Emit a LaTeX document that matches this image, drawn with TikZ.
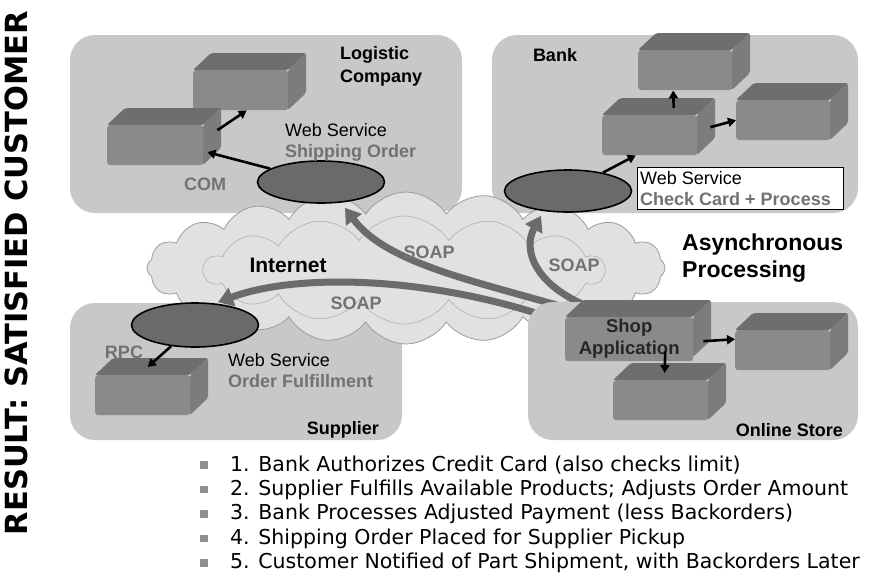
\documentclass[tikz,border=0pt]{standalone}
\usepackage{fontspec}
\setmainfont{Liberation Sans}
\setsansfont{Liberation Sans}
\newfontfamily\listfont{DejaVu Sans}
\newfontfamily\titlefont{DejaVu Sans}
\usetikzlibrary{shapes.geometric,shapes.symbols,arrows.meta}

\definecolor{panelgray}{HTML}{C8C8C8}
\definecolor{cloudgray}{HTML}{E1E1E1}
\definecolor{cloudline}{HTML}{9C9C9C}
\definecolor{cratefront}{HTML}{8A8A8A}
\definecolor{cratetop}{HTML}{6E6E6E}
\definecolor{crateside}{HTML}{7C7C7C}
\definecolor{wsgray}{HTML}{6A6A6A}
\definecolor{soapgray}{HTML}{6B6B6B}
\definecolor{labelgray}{HTML}{727272}
\definecolor{dotgray}{HTML}{8E8E8E}

\pgfdeclarelayer{back}
\pgfdeclarelayer{wires}
\pgfsetlayers{back,wires,main}

\tikzset{
	panel/.style={fill=panelgray, rounded corners=25pt},
	crate/.style={fill=cratefront, rounded corners=3pt, minimum height=40, inner sep=0pt, anchor=north west},
	ws/.style={ellipse, draw=black, line width=1.6pt, fill=wsgray, minimum width=127, minimum height=42, inner sep=0pt},
	link/.style={line width=2.6pt, -{Triangle[length=8pt,width=9pt]}},
	soap/.style={draw=soapgray, line width=7pt, -{Triangle[length=15pt,width=19pt]}},
	lbl/.style={font=\fontsize{18}{23}\selectfont\bfseries, inner sep=0pt},
	grlbl/.style={lbl, text=labelgray},
	wstext/.style={font=\fontsize{18}{21}\selectfont, inner sep=0pt, align=left, anchor=west},
	item/.style={font=\listfont\fontsize{20.5}{24}\selectfont, inner sep=0pt, anchor=west},
	dot/.style={fill=dotgray, minimum size=7.5, inner sep=0pt},
	puffs/.style={cloud, cloud puffs=#1, cloud puff arc=115, aspect=3.3}
}

% crate: name, left, top, width, text
\newcommand{\crate}[5]{%
	\fill[cratetop, rounded corners=2pt] (#2,#3) -- ++(18,-17) -- ++(#4,0) -- ++(-18,17) -- cycle;
	\fill[crateside, rounded corners=2pt] (#2+#4,#3) -- ++(18,-17) -- ++(0,40) -- ++(-18,17) -- cycle;
	\node[crate, minimum width=#4] (#1) at (#2,#3) {#5};
}

\begin{document}
\begin{tikzpicture}[x=1pt, y=-1pt]
	\useasboundingbox (0,0) rectangle (874,587);

	\node[rotate=90, font=\titlefont\fontsize{30.5}{31}\selectfont\bfseries, inner sep=0pt] (title) at (16,273) {RESULT: SATISFIED CUSTOMER};

	% companies and the net behind them
	\begin{pgfonlayer}{back}
		\fill[panel] (70,35) rectangle (462,213);
		\fill[panel] (492,35) rectangle (858,213);
		\fill[panel] (70,303) rectangle (402,440);
		\node[puffs=20, fill=cloudgray, draw=cloudline, line width=0.8pt, minimum width=518, minimum height=152] (net) at (406,268) {};
		\node[puffs=14, draw=cloudline!80, line width=0.6pt, minimum width=400, minimum height=108] (netin) at (404,270) {};
	\end{pgfonlayer}
	\node[font=\fontsize{21}{24}\selectfont\bfseries, inner sep=0pt] (inet) at (288,265) {Internet};

	\fill[panel] (528,302) rectangle (858,440);

	\crate{lcback}{193}{70}{95}{}
	\crate{lcfront}{107}{125}{96}{}
	\crate{banktop}{638}{50}{94}{}
	\crate{bankmid}{602}{115}{95}{}
	\crate{bankright}{736}{100}{94}{}
	\crate{supbox}{95}{375}{95}{}
	\crate{shop}{565}{317}{128}{\fontsize{18.5}{22}\selectfont\bfseries\color{black!85}\begin{tabular}{@{}c@{}}Shop\\Application\end{tabular}}
	\crate{storeright}{735}{330}{95}{}
	\crate{storebottom}{613}{380}{95}{}

	\node[ws] (shipws) at (321,182) {};
	\node[ws] (bankws) at (568,191) {};
	\node[ws, minimum height=44] (supws) at (195,325) {};

	% SOAP calls leave the shop
	\coordinate (shipfrom) at (560,306);
	\coordinate (bankfrom) at (597,310);
	\coordinate (supfrom) at (545,316);
	\begin{pgfonlayer}{wires}
		\draw[soap] (shipfrom) .. controls (470,280) and (385,262) .. ([xshift=24pt,yshift=-4pt]shipws.south);
		\draw[soap] (bankfrom) .. controls (535,288) and (522,250) .. ([xshift=-27pt,yshift=-3pt]bankws.south);
		\draw[soap] (supfrom) .. controls (430,278) and (300,272) .. ([xshift=23pt]supws.north);
	\end{pgfonlayer}

	\draw[link] ([xshift=14pt,yshift=15pt]lcfront.east) -- ([xshift=6pt]lcback.south);
	\draw[link] (shipws) -- ([xshift=4pt,yshift=-7pt]lcfront.east);
	\draw[link] ([xshift=24pt,yshift=7pt]bankmid.north) -- ([xshift=-12pt]banktop.south);
	\draw[link] ([xshift=13pt,yshift=8pt]bankmid.east) -- (bankright.west);
	\draw[link] (bankws) -- ([xshift=-14pt]bankmid.south);
	\draw[link] (supws) -- ([xshift=5pt,yshift=8pt]supbox.north);
	\draw[link] ([xshift=10pt,yshift=-2pt]shop.east) -- ([yshift=11pt]storeright.west);
	\draw[link] ([xshift=36pt,yshift=10pt]shop.south) -- ([xshift=4pt,yshift=7pt]storebottom.north);

	% labels
	\node[lbl, align=left, anchor=west] (lcname) at (340,66) {Logistic\\Company};
	\node[lbl] (bankname) at (555,55) {Bank};
	\node[lbl, anchor=east] (supname) at (379,430) {Supplier};
	\node[lbl, anchor=east] (storename) at (843,430) {Online Store};
	\node[grlbl] (com) at (205,184) {COM};
	\node[grlbl] (rpc) at (124,352) {RPC};

	\node[wstext] (shiplbl) at (285,142) {Web Service\\\textcolor{labelgray}{\bfseries Shipping Order}};
	\node[wstext] (suplbl) at (228,371) {Web Service\\\textcolor{labelgray}{\bfseries Order Fulfillment}};
	\node[draw=black, line width=0.8pt, fill=white, anchor=north west, minimum width=206, minimum height=42, inner sep=0pt] (banklbl) at (637,167) {};
	\node[wstext] at ([xshift=3pt]banklbl.west) {Web Service\\\textcolor{labelgray}{\bfseries Check Card + Process}};

	\node[grlbl] (soapship) at (429,252) {SOAP};
	\node[grlbl] (soapbank) at (574,265) {SOAP};
	\node[grlbl] (soapsup) at (356,303) {SOAP};

	\node[font=\fontsize{23}{27}\selectfont\bfseries, align=left, anchor=west, inner sep=0pt] (async) at (682,258) {Asynchronous\\Processing};

	% steps
	\foreach \i/\txt in {1/{1. Bank Authorizes Credit Card (also checks limit)},
		2/{2. Supplier Fulfills Available Products; Adjusts Order Amount},
		3/{3. Bank Processes Adjusted Payment (less Backorders)},
		4/{4. Shipping Order Placed for Supplier Pickup},
		5/{5. Customer Notified of Part Shipment, with Backorders Later}} {
		\node[dot] (b\i) at (204,440.5+24.5*\i) {};
		\node[item] (s\i) at (230,440.5+24.5*\i) {\txt};
	}
\end{tikzpicture}
\end{document}
